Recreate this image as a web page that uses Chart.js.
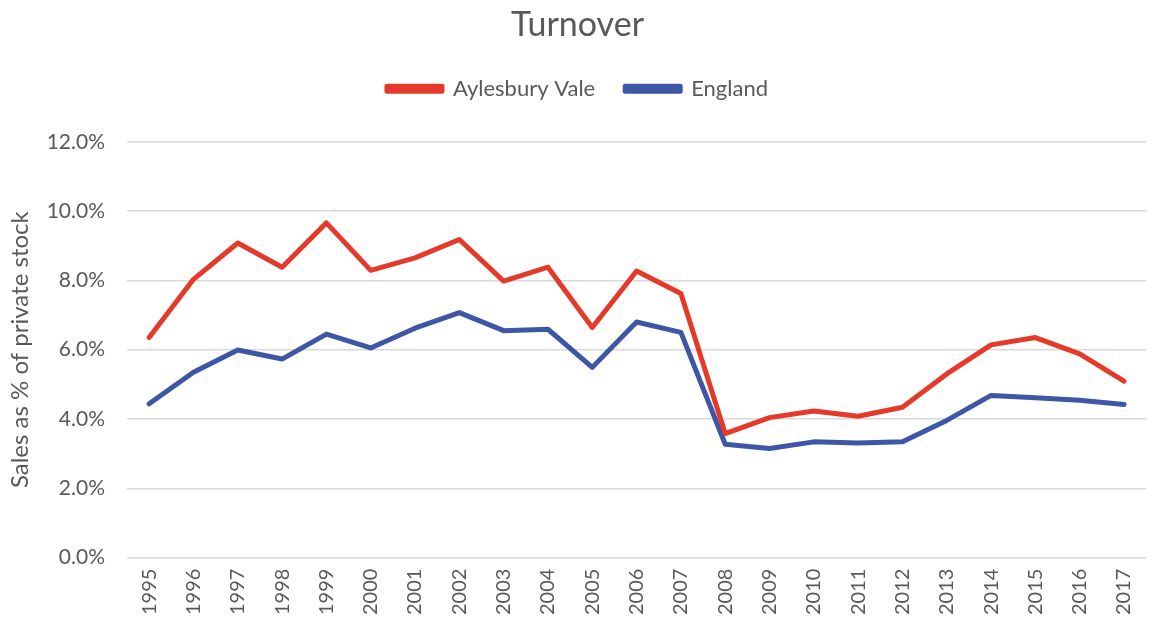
<!DOCTYPE html>
<html>
<head>
<meta charset="utf-8">
<script src="https://cdn.jsdelivr.net/npm/chart.js@4/dist/chart.umd.min.js"></script>
<style>
  html, body { margin: 0; padding: 0; background: #fff; }
  #wrap { width: 1151px; height: 626px; position: relative; }
</style>
</head>
<body>
<div id="wrap"><canvas id="turnoverChart"></canvas></div>
<script>
// chart data
const years = ['1995', '1996', '1997', '1998', '1999', '2000', '2001', '2002', '2003', '2004', '2005', '2006',
  '2007', '2008', '2009', '2010', '2011', '2012', '2013', '2014', '2015', '2016', '2017'];
const aylesburyVale = [6.35, 8.03, 9.08, 8.38, 9.66, 8.29, 8.65, 9.18, 7.98, 8.38, 6.64, 8.27,
  7.62, 3.58, 4.04, 4.23, 4.08, 4.34, 5.30, 6.14, 6.35, 5.88, 5.09];
const england = [4.44, 5.35, 5.99, 5.73, 6.45, 6.05, 6.62, 7.07, 6.55, 6.59, 5.49, 6.80,
  6.50, 3.27, 3.15, 3.34, 3.31, 3.34, 3.96, 4.68, 4.61, 4.54, 4.42];
const yTicks = [0, 2, 4, 6, 8, 10, 12];

const FONT = 'Lato, "Open Sans", sans-serif';
const GREY = '#595959';

// extra space between the legend and the plot
const legendGap = {
  id: 'legendGap',
  beforeInit(chart) {
    const fit = chart.legend.fit;
    chart.legend.fit = function () {
      fit.call(this);
      this.height += 32;
    };
  }
};

new Chart(document.getElementById('turnoverChart'), {
  type: 'line',
  data: {
    labels: years,
    datasets: [
      {
        label: 'Aylesbury Vale',
        data: aylesburyVale,
        borderColor: '#E5392A',
        backgroundColor: '#E5392A',
        borderWidth: 5,
        pointRadius: 0,
        tension: 0,
        borderCapStyle: 'round',
        borderJoinStyle: 'round'
      },
      {
        label: 'England',
        data: england,
        borderColor: '#3D57A6',
        backgroundColor: '#3D57A6',
        borderWidth: 5,
        pointRadius: 0,
        tension: 0,
        borderCapStyle: 'round',
        borderJoinStyle: 'round'
      }
    ]
  },
  plugins: [legendGap],
  options: {
    responsive: true,
    maintainAspectRatio: false,
    animation: false,
    layout: { padding: { left: 4, right: 0, top: 5, bottom: 8 } },
    plugins: {
      title: {
        display: true,
        text: 'Turnover',
        color: GREY,
        font: { family: FONT, size: 34, weight: 'normal' },
        padding: { top: 0, bottom: 2 }
      },
      legend: {
        position: 'top',
        labels: {
          color: GREY,
          font: { family: FONT, size: 22 },
          boxWidth: 55,
          boxHeight: 5,
          padding: 30
        }
      },
      tooltip: { enabled: false }
    },
    scales: {
      x: {
        offset: true,
        grid: { display: false },
        border: { display: false },
        ticks: {
          color: GREY,
          font: { family: FONT, size: 20 },
          minRotation: 90,
          maxRotation: 90,
          autoSkip: false
        }
      },
      y: {
        min: 0,
        max: 12,
        afterBuildTicks: axis => { axis.ticks = yTicks.map(v => ({ value: v })); },
        afterFit: axis => { axis.width = 123; },
        grid: { color: '#D9D9D9', lineWidth: 1.5, drawTicks: false },
        border: { display: false },
        ticks: {
          color: GREY,
          font: { family: FONT, size: 21 },
          padding: 22,
          callback: v => v.toFixed(1) + '%'
        },
        title: {
          display: true,
          text: 'Sales as % of private stock',
          color: GREY,
          font: { family: FONT, size: 24 },
          padding: { top: 2, bottom: 0 }
        }
      }
    }
  }
});
</script>
</body>
</html>
